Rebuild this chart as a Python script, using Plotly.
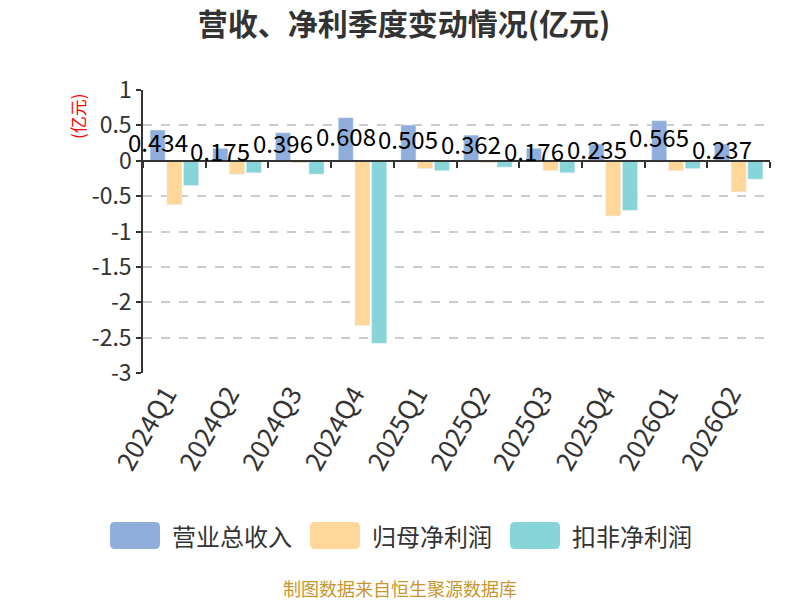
import plotly.graph_objects as go

# 季度与数据(亿元)
quarters = ["2024Q1", "2024Q2", "2024Q3", "2024Q4", "2025Q1",
            "2025Q2", "2025Q3", "2025Q4", "2026Q1", "2026Q2"]
revenue = [0.434, 0.175, 0.396, 0.608, 0.505, 0.362, 0.176, 0.235, 0.565, 0.237]
net_profit = [-0.62, -0.19, -0.03, -2.33, -0.11, -0.03, -0.14, -0.78, -0.14, -0.44]
net_profit_deducted = [-0.35, -0.17, -0.19, -2.58, -0.14, -0.09, -0.17, -0.70, -0.11, -0.26]

names = ["营业总收入", "归母净利润", "扣非净利润"]
colors = ["#8FAEDB", "#FFD899", "#87D5D9"]

ytick_vals = [1, 0.5, 0, -0.5, -1, -1.5, -2, -2.5, -3]
ytick_text = ["1", "0.5", "0", "-0.5", "-1", "-1.5", "-2", "-2.5", "-3"]

FONT = "Noto Sans CJK SC, Microsoft YaHei, sans-serif"

# 页面 body 有 8px 外边距, 图整体缩小 8px
W, H = 792, 592
PL, PR, PT, PB = 135, 30, 82, 227
PW, PH = W - PL - PR, H - PT - PB
BARGAP = 0.2
x_range = [-0.5, len(quarters) - 0.5]


def px(x):
    # 参考图像素 -> paper 坐标
    return (x - 8 - PL) / PW


def py(y):
    return (H - PB - (y - 8)) / PH


fig = go.Figure()
fig.add_trace(go.Bar(x=quarters, y=revenue, name=names[0],
                     marker_color=colors[0], showlegend=False))
fig.add_trace(go.Bar(x=quarters, y=net_profit, name=names[1],
                     marker_color=colors[1], showlegend=False))
fig.add_trace(go.Bar(x=quarters, y=net_profit_deducted, name=names[2],
                     marker_color=colors[2], showlegend=False))

# 零轴上的刻度线
fig.add_trace(go.Scatter(x=quarters, y=[0] * len(quarters), xaxis="x2",
                         mode="markers", marker_opacity=0, hoverinfo="skip",
                         showlegend=False))

# 营收数值标签, 位于蓝色柱子中部
slot = PW / len(quarters) * (1 - BARGAP) / 3
for q, v in zip(quarters, revenue):
    fig.add_annotation(x=q, y=v / 2, text=f"{v:.3f}", showarrow=False,
                       xshift=-slot, yshift=4, xanchor="center", yanchor="middle",
                       font=dict(size=24, color="#000000", family=FONT))

fig.update_layout(
    width=W, height=H,
    margin=dict(l=PL, r=PR, t=PT, b=PB),
    paper_bgcolor="white", plot_bgcolor="white",
    font=dict(family=FONT, color="#333333"),
    barmode="group", bargap=BARGAP, bargroupgap=0.1,
    title=dict(text="<b>营收、净利季度变动情况(亿元)</b>", x=0.5, xanchor="center",
               y=1 - 16 / H, yanchor="middle", font=dict(size=30, color="#333333")),
    xaxis=dict(
        type="category", range=x_range, autorange=False,
        tickangle=-60, tickfont=dict(size=26, color="#333333"),
        ticklabelshift=-8,
        showline=False, showgrid=False, ticks="", zeroline=False, automargin=False,
    ),
    xaxis2=dict(
        type="category", overlaying="x", matches="x", anchor="free",
        position=0.75, showline=True, linecolor="#333333", linewidth=1.5,
        ticks="outside", tickson="boundaries", ticklen=6, tickwidth=2,
        tickcolor="#333333", showticklabels=False, showgrid=False,
    ),
    yaxis=dict(
        range=[-3, 1], tickvals=ytick_vals, ticktext=ytick_text,
        tickfont=dict(size=23, color="#333333"),
        showline=True, linecolor="#333333", linewidth=1.5,
        ticks="outside", ticklen=5, tickwidth=2, tickcolor="#333333",
        showgrid=True, gridcolor="#CCCCCC", griddash="dash", gridwidth=1.5,
        zeroline=False, automargin=False,
    ),
)

# 纵轴单位
fig.add_annotation(text="(亿元)", xref="paper", yref="paper", x=px(77), y=py(116),
                   xanchor="center", yanchor="middle", textangle=-90, showarrow=False,
                   font=dict(size=17, color="#FF0000", family=FONT))


def rounded_rect(x0, y0, x1, y1, r):
    # 像素坐标的圆角矩形, 转为 paper 坐标路径
    rx, ry = r / PW, r / PH
    a, b, c, d = px(x0), py(y1), px(x1), py(y0)
    return (f"M{a + rx},{b} L{c - rx},{b} Q{c},{b} {c},{b + ry} "
            f"L{c},{d - ry} Q{c},{d} {c - rx},{d} L{a + rx},{d} "
            f"Q{a},{d} {a},{d - ry} L{a},{b + ry} Q{a},{b} {a + rx},{b} Z")


# 自定义图例
legend_x = [110, 310, 510]
for name, col, x0 in zip(names, colors, legend_x):
    fig.add_shape(type="path", xref="paper", yref="paper",
                  path=rounded_rect(x0, 522, x0 + 50, 549, 5),
                  fillcolor=col, line_width=0, layer="above")
    fig.add_annotation(text=name, xref="paper", yref="paper",
                       x=px(x0 + 60), y=py(535),
                       xanchor="left", yanchor="middle", showarrow=False,
                       font=dict(size=24, color="#333333", family=FONT))

fig.add_annotation(text="制图数据来自恒生聚源数据库", xref="paper", yref="paper",
                   x=px(400), y=py(588), showarrow=False,
                   xanchor="center", yanchor="middle",
                   font=dict(size=18, color="#C8962E", family=FONT))

fig.write_html("out.html")
